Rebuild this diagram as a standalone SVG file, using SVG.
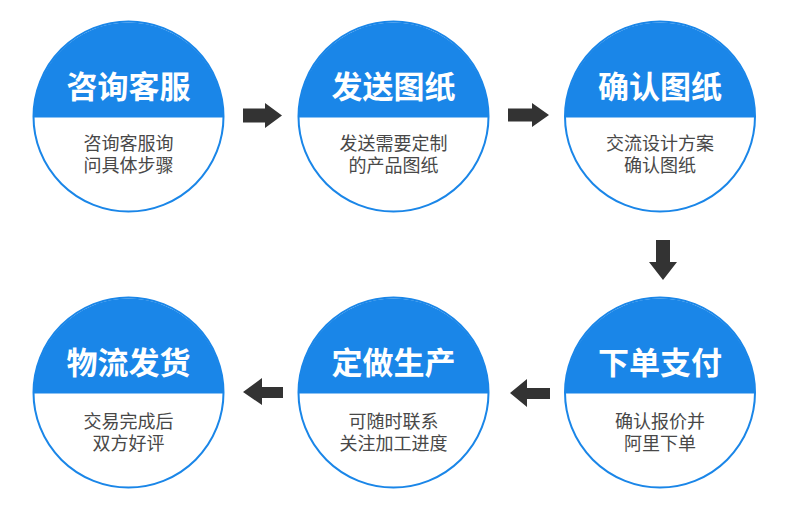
<svg xmlns="http://www.w3.org/2000/svg" width="790" height="525" viewBox="0 0 790 525">
<style>
.ring{fill:#ffffff;stroke:#1a86e8;stroke-width:2}
.top{fill:#1a86e8}
.title{font-family:"Noto Sans CJK SC","Noto Sans",sans-serif;font-weight:700;font-size:31px;fill:#ffffff;text-anchor:middle}
.sub{font-family:"Noto Sans CJK SC","Noto Sans",sans-serif;font-size:18px;fill:#484848;text-anchor:middle}
.arrow{fill:#333333}
</style>
<rect width="790" height="525" fill="#ffffff"/>
<g id="node1">
<circle class="ring" cx="128.5" cy="116.5" r="95"/>
<path class="top" d="M33.5,117.5 A95,95 0 0 1 223.5,117.5 Z"/>
<text class="title" x="128.5" y="98">咨询客服</text>
<text class="sub" x="128.5" y="150">咨询客服询<tspan x="128.5" dy="22">问具体步骤</tspan></text>
</g>
<g id="node2">
<circle class="ring" cx="393.5" cy="116.5" r="95"/>
<path class="top" d="M298.5,117.5 A95,95 0 0 1 488.5,117.5 Z"/>
<text class="title" x="393.5" y="98">发送图纸</text>
<text class="sub" x="393.5" y="150">发送需要定制<tspan x="393.5" dy="22">的产品图纸</tspan></text>
</g>
<g id="node3">
<circle class="ring" cx="660" cy="116.5" r="95"/>
<path class="top" d="M565,117.5 A95,95 0 0 1 755,117.5 Z"/>
<text class="title" x="660" y="98">确认图纸</text>
<text class="sub" x="660" y="150">交流设计方案<tspan x="660" dy="22">确认图纸</tspan></text>
</g>
<g id="node4">
<circle class="ring" cx="660" cy="392.5" r="95"/>
<path class="top" d="M565,393.5 A95,95 0 0 1 755,393.5 Z"/>
<text class="title" x="660" y="374">下单支付</text>
<text class="sub" x="660" y="428">确认报价并<tspan x="660" dy="22">阿里下单</tspan></text>
</g>
<g id="node5">
<circle class="ring" cx="393.5" cy="392.5" r="95"/>
<path class="top" d="M298.5,393.5 A95,95 0 0 1 488.5,393.5 Z"/>
<text class="title" x="393.5" y="374">定做生产</text>
<text class="sub" x="393.5" y="428">可随时联系<tspan x="393.5" dy="22">关注加工进度</tspan></text>
</g>
<g id="node6">
<circle class="ring" cx="128.5" cy="392.5" r="95"/>
<path class="top" d="M33.5,393.5 A95,95 0 0 1 223.5,393.5 Z"/>
<text class="title" x="128.5" y="374">物流发货</text>
<text class="sub" x="128.5" y="428">交易完成后<tspan x="128.5" dy="22">双方好评</tspan></text>
</g>
<g id="connectors">
<polygon class="arrow" points="243,108.5 265,108.5 265,103 282,115.5 265,128 265,122.5 243,122.5"/>
<polygon class="arrow" points="508,108.5 532,108.5 532,103 549,115 532,127 532,121.5 508,121.5"/>
<polygon class="arrow" points="656,240 670,240 670,262 677,262 663,280 649,262 656,262"/>
<polygon class="arrow" points="550,388 527,388 527,379 510,393 527,407 527,399 550,399"/>
<polygon class="arrow" points="283,387 262,387 262,378 243,392 262,405 262,398 283,398"/>
</g>
</svg>
